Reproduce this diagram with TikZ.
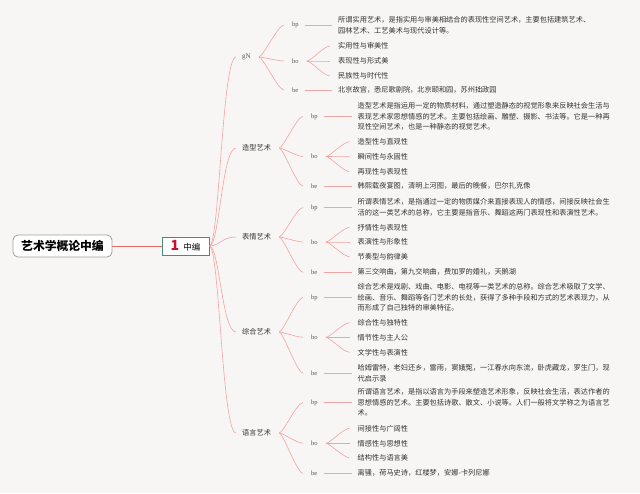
\documentclass[tikz,border=0pt]{standalone}
\usepackage{fontspec}
\setmainfont{Liberation Serif}
\newfontfamily\cjk{Noto Sans CJK SC}
\definecolor{bg}{HTML}{F7F6F4}
\definecolor{connc}{HTML}{F2A3A3}
\definecolor{rootl}{HTML}{E56B5D}
\definecolor{txtc}{HTML}{333333}
\definecolor{labc}{HTML}{555555}
\definecolor{midb}{HTML}{4A8A7A}
\definecolor{one}{HTML}{C8102E}
\tikzset{
  conn/.style={draw=connc, line width=0.6pt},
  fanline/.style={conn, shorten <=8pt, shorten >=8pt},
  bigline/.style={conn, shorten >=6pt},
  rootbox/.style={draw=gray!75, fill=white, rounded corners=5pt, line width=0.8pt,
    minimum width=99pt, minimum height=22pt, inner sep=0pt,
    font=\cjk\bfseries\fontsize{11.8}{12}\selectfont},
  midbox/.style={draw=midb, fill=white, line width=0.8pt, minimum width=47pt,
    minimum height=18pt, inner sep=0pt},
  catn/.style={anchor=west, inner xsep=0pt, inner ysep=2pt, text=txtc,
    font=\cjk\fontsize{7.2}{8}\selectfont},
  subn/.style={anchor=west, inner xsep=0pt, inner ysep=2pt, text=labc,
    font=\fontsize{6.5}{7}\selectfont},
  txtn/.style={anchor=west, inner xsep=0pt, inner ysep=1pt, align=left, text=txtc,
    font=\cjk\fontsize{7.2}{10.6}\selectfont},
}
\newcommand\bigcurve[2]{\draw[bigline] (#1.east) .. controls +(10,0) and +(-20,0) .. (#2.west);}
\newcommand\fancurve[2]{\draw[fanline] (#1.east) .. controls +(12,0) and +(-14,0) .. (#2.west);}
\newcommand\straight[2]{\draw[conn, shorten <=6pt, shorten >=6pt] (#1.east) -- (#1.east -| #2.west);}
\begin{document}
\begin{tikzpicture}[x=1pt,y=-1pt]
\fill[bg] (0,0) rectangle (640,493);
\useasboundingbox (0,0) rectangle (640,493);

\node[rootbox] (root) at (62.5,246) {艺术学概论中编};
\node[midbox] (mid) at (185.5,246) {{\cjk\bfseries\fontsize{14}{14}\selectfont\color{one}1}\hspace{4pt}{\cjk\fontsize{8.5}{9}\selectfont 中编}};
\draw[rootl, line width=1pt] (root) -- (mid);

% categories
\node[catn, font=\fontsize{7}{8}\selectfont, text=labc] (c1) at (242,57) {gN};
\node[catn] (c2) at (242,148) {造型艺术};
\node[catn] (c3) at (242,237) {表情艺术};
\node[catn] (c4) at (242,332) {综合艺术};
\node[catn] (c5) at (242,433) {语言艺术};
\foreach \c in {c1,c2,c3,c4,c5} {\bigcurve{mid}{\c}}

% ---------- gN ----------
\node[subn] (c1p) at (292,25) {bp};
\node[subn] (c1o) at (292,61) {bo};
\node[subn] (c1e) at (292,90) {be};
\node[txtn] (c1pt) at (338,25.5) {所谓实用艺术，是指实用与审美相结合的表现性空间艺术，主要包括建筑艺术、\\园林艺术、工艺美术与现代设计等。};
\node[txtn] (c1o1) at (338,46) {实用性与审美性};
\node[txtn] (c1o2) at (338,61) {表现性与形式美};
\node[txtn] (c1o3) at (338,76) {民族性与时代性};
\node[txtn] (c1et) at (338,90) {北京故宫，悉尼歌剧院，北京颐和园，苏州拙政园};

% ---------- 造型艺术 ----------
\node[subn] (c2p) at (311,116.5) {bp};
\node[subn] (c2o) at (311,156.5) {bo};
\node[subn] (c2e) at (311,186) {be};
\node[txtn] (c2pt) at (357.5,116.5) {造型艺术是指运用一定的物质材料，通过塑造静态的视觉形象来反映社会生活与\\表现艺术家思想情感的艺术。主要包括绘画、雕塑、摄影、书法等。它是一种再\\现性空间艺术，也是一种静态的视觉艺术。};
\node[txtn] (c2o1) at (357.5,141.7) {造型性与直观性};
\node[txtn] (c2o2) at (357.5,156.7) {瞬间性与永固性};
\node[txtn] (c2o3) at (357.5,171.7) {再现性与表现性};
\node[txtn] (c2et) at (357.5,186) {韩熙载夜宴图，清明上河图，最后的晚餐，巴尔扎克像};

% ---------- 表情艺术 ----------
\node[subn] (c3p) at (311,207.5) {bp};
\node[subn] (c3o) at (311,242) {bo};
\node[subn] (c3e) at (311,272.3) {be};
\node[txtn] (c3pt) at (357.5,207.5) {所谓表情艺术，是指通过一定的物质媒介来直接表现人的情感，间接反映社会生\\活的这一类艺术的总称，它主要是指音乐、舞蹈这两门表现性和表演性艺术。};
\node[txtn] (c3o1) at (357.5,227.3) {抒情性与表现性};
\node[txtn] (c3o2) at (357.5,242) {表演性与形象性};
\node[txtn] (c3o3) at (357.5,256.7) {节奏型与韵律美};
\node[txtn] (c3et) at (357.5,272.3) {第三交响曲，第九交响曲，费加罗的婚礼，天鹅湖};

% ---------- 综合艺术 ----------
\node[subn] (c4p) at (311,297.5) {bp};
\node[subn] (c4o) at (311,337.3) {bo};
\node[subn] (c4e) at (311,373) {be};
\node[txtn] (c4pt) at (357.5,297.5) {综合艺术是戏剧、戏曲、电影、电视等一类艺术的总称。综合艺术吸取了文学、\\绘画、音乐、舞蹈等各门艺术的长处，获得了多种手段和方式的艺术表现力，从\\而形成了自己独特的审美特征。};
\node[txtn] (c4o1) at (357.5,322.7) {综合性与独特性};
\node[txtn] (c4o2) at (357.5,337.3) {情节性与主人公};
\node[txtn] (c4o3) at (357.5,352.3) {文学性与表演性};
\node[txtn] (c4et) at (357.5,373) {哈姆雷特，老妇还乡，雷雨，窦娥冤，一江春水向东流，卧虎藏龙，罗生门，现\\代启示录};

% ---------- 语言艺术 ----------
\node[subn] (c5p) at (311,402.5) {bp};
\node[subn] (c5o) at (311,443.3) {bo};
\node[subn] (c5e) at (311,473.3) {be};
\node[txtn] (c5pt) at (357.5,402.5) {所谓语言艺术，是指以语言为手段来塑造艺术形象，反映社会生活，表达作者的\\思想情感的艺术。主要包括诗歌、散文、小说等。人们一般将文学称之为语言艺\\术。};
\node[txtn] (c5o1) at (357.5,428.3) {间接性与广阔性};
\node[txtn] (c5o2) at (357.5,443.3) {情感性与思想性};
\node[txtn] (c5o3) at (357.5,457.7) {结构性与语言美};
\node[txtn] (c5et) at (357.5,473.3) {离骚，荷马史诗，红楼梦，安娜-卡列尼娜};

% connectors inside each category
\foreach \c in {c1,c2,c3,c4,c5} {
  \fancurve{\c}{\c p}
  \fancurve{\c}{\c o}
  \fancurve{\c}{\c e}
  \straight{\c p}{\c pt}
  \straight{\c e}{\c et}
  \fancurve{\c o}{\c o1}
  \fancurve{\c o}{\c o2}
  \fancurve{\c o}{\c o3}
}
\end{tikzpicture}
\end{document}
